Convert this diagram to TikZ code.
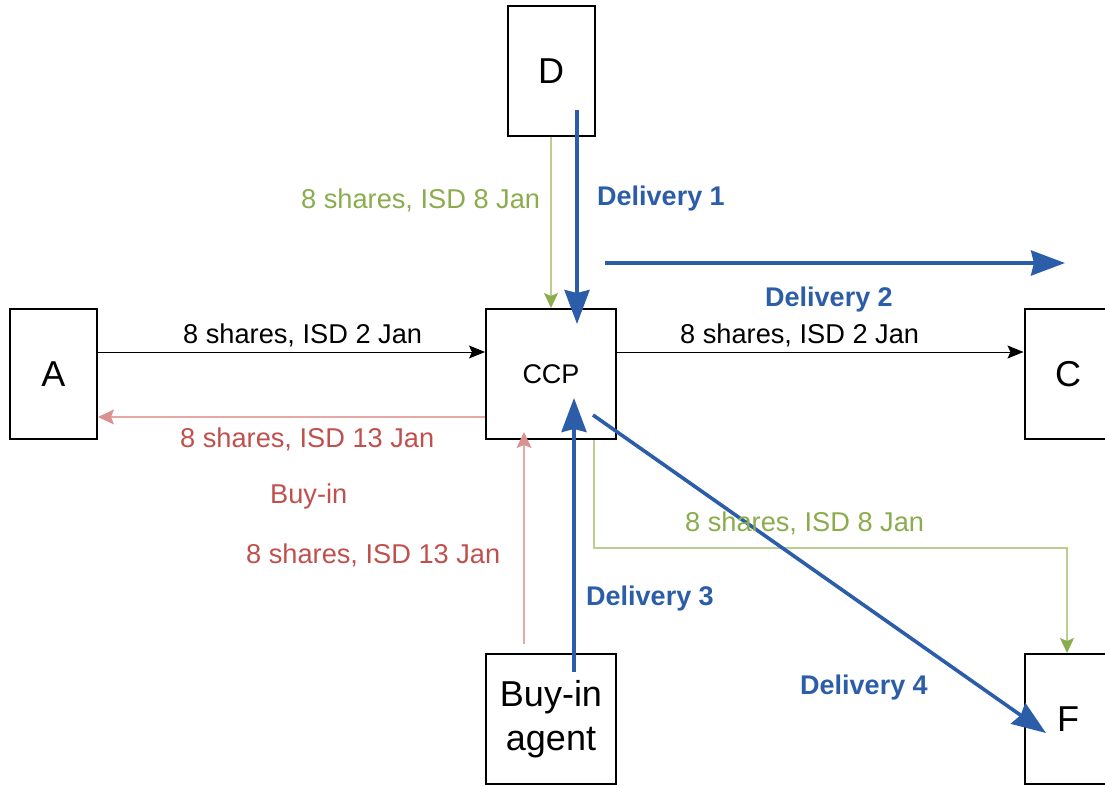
\documentclass[tikz,border=0pt]{standalone}
\usepackage{fontspec}
\setmainfont{Liberation Sans}
\usetikzlibrary{arrows.meta,calc}

\definecolor{delblue}{RGB}{44,93,168}
\definecolor{grtext}{RGB}{138,172,76}
\definecolor{grline}{RGB}{186,206,146}
\definecolor{grtip}{RGB}{138,172,76}
\definecolor{rdtext}{RGB}{192,80,77}
\definecolor{rdline}{RGB}{228,168,166}
\definecolor{rdtip}{RGB}{218,146,145}

\tikzset{
  party/.style={draw=black, line width=2pt, fill=white, minimum width=87pt,
    minimum height=130pt, inner sep=0pt, font=\fontsize{36}{42}\selectfont},
  hub/.style={party, minimum width=130pt, font=\fontsize{27}{32}\selectfont},
  agentbox/.style={party, minimum width=130pt, align=center,
    font=\fontsize{36}{44}\selectfont},
  lbl/.style={anchor=base west, inner sep=0pt, font=\fontsize{27.2}{32}\selectfont},
  dlbl/.style={lbl, text=delblue, font=\fontsize{27}{32}\selectfont\bfseries},
  flow/.style={line width=1pt, -{Stealth[length=16pt,width=13pt,inset=3pt]}},
  greenflow/.style={draw=grline, line width=1.2pt,
    -{Stealth[length=15pt,width=14pt,inset=3pt,color=grtip]}},
  redflow/.style={draw=rdline, line width=1.2pt,
    -{Stealth[length=16pt,width=15pt,inset=3pt,color=rdtip]}},
  delivery/.style={draw=delblue, line width=3.6pt,
    -{Stealth[length=34pt,width=25pt,inset=3pt]}}
}

\begin{document}
\begin{tikzpicture}[x=1pt,y=-1pt]
\useasboundingbox (0,0) rectangle (1105,785);
\clip (0,0) rectangle (1105,785);

% participants
\node[party]    (D)   at (551,71)    {D};
\node[party]    (A)   at (53.5,374)  {A};
\node[hub]      (CCP) at (551,374)   {CCP};
\node[party]    (C)   at (1068,374)  {C};
\node[agentbox] (BA)  at (551,719)   {Buy-in\\agent};
\node[party]    (F)   at (1068,719)  {F};

% free ends of the second delivery
\coordinate (d2s) at (605,263);
\coordinate (d2e) at (1065,263);

% original settlements
\draw[flow] ([yshift=22pt]A.east) -- ([yshift=22pt]CCP.west);
\draw[flow] ([yshift=22pt]CCP.east) -- ([yshift=22pt]C.west);

% buy-in settlements
\draw[redflow] ([yshift=-43pt]CCP.west) -- ([yshift=-43pt]A.east);
\draw[redflow] ([xshift=-27pt,yshift=9pt]BA.north) -- ([xshift=-27pt,yshift=8pt]CCP.south);

% late deliveries
\draw[greenflow] (D.south) -- (CCP.north);
\draw[greenflow] ([xshift=43pt]CCP.south) -- ++(0,108) -| ([xshift=-1pt]F.north);

% delivery chain
\draw[delivery] ([xshift=26pt,yshift=27pt]D.south) -- ([xshift=26pt,yshift=-16pt]CCP.north);
\draw[delivery] (d2s) -- (d2e);
\draw[delivery] ([xshift=23pt,yshift=-19pt]BA.north) -- ([xshift=23pt,yshift=42pt]CCP.south);
\draw[delivery] ($(CCP.center)+(42,41)$) -- ($(F.center)+(-22,14)$);

% labels
\node[lbl] (l1) at (183,343) {8 shares, ISD 2 Jan};
\node[lbl, text=rdtext] (l2) at (180,447) {8 shares, ISD 13 Jan};
\node[lbl] (l3) at (680,343) {8 shares, ISD 2 Jan};
\node[lbl, text=grtext] (l4) at (301,208) {8 shares, ISD 8 Jan};
\node[lbl, text=rdtext] (l5) at (270,503) {Buy-in};
\node[lbl, text=rdtext] (l6) at (246,563) {8 shares, ISD 13 Jan};
\node[lbl, text=grtext] (l7) at (685,531) {8 shares, ISD 8 Jan};

\node[dlbl] (dl1) at (597,205) {Delivery 1};
\node[dlbl] (dl2) at (765,306) {Delivery 2};
\node[dlbl] (dl3) at (586,605) {Delivery 3};
\node[dlbl] (dl4) at (800,694) {Delivery 4};
\end{tikzpicture}
\end{document}
